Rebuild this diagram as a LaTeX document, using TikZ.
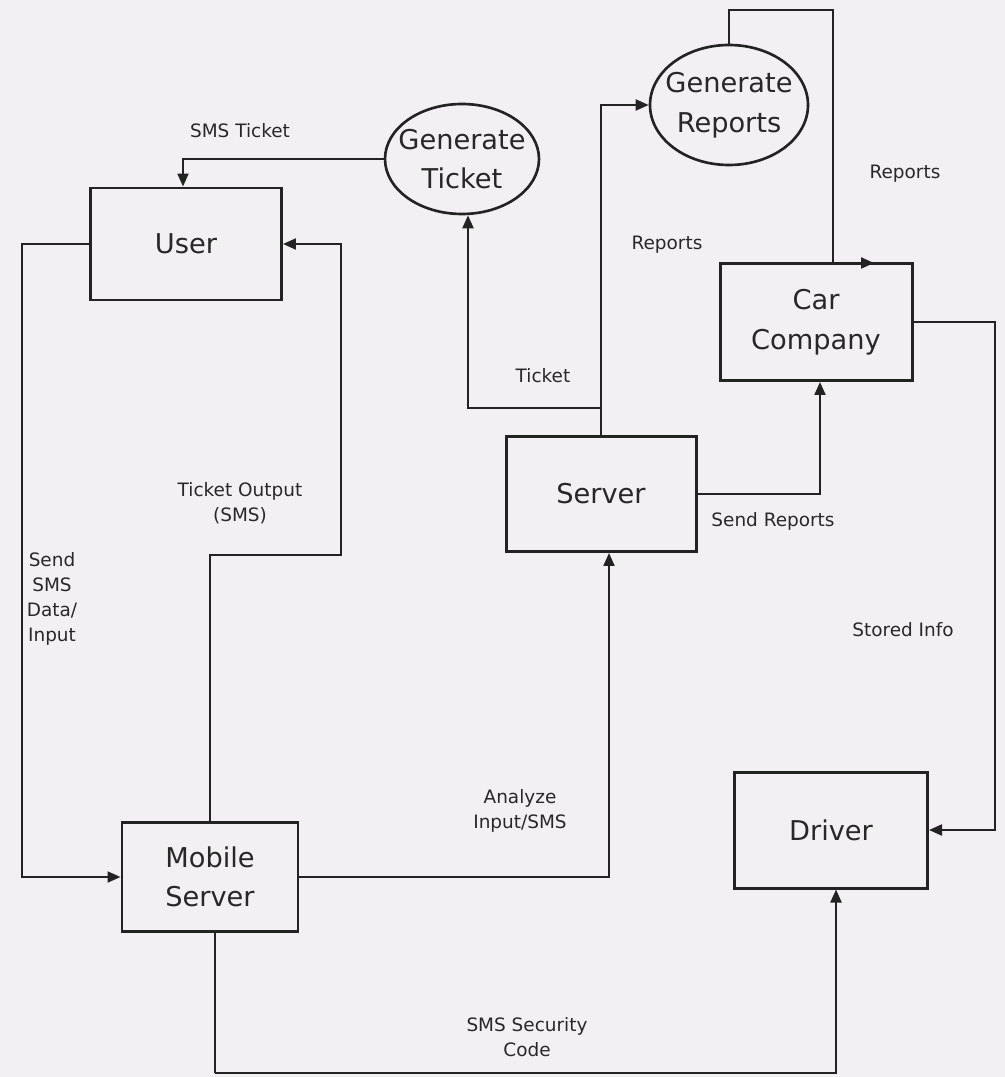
\documentclass[tikz,border=0pt]{standalone}
\usepackage{fontspec}
\setmainfont{DejaVu Sans}
\usetikzlibrary{arrows.meta,shapes.geometric}
\definecolor{paper}{RGB}{243,240,243}
\definecolor{ink}{RGB}{35,35,35}
\definecolor{txt}{RGB}{40,40,40}
\tikzset{
  entity/.style={draw=ink, line width=1.7pt, rectangle, inner sep=0pt, align=center,
    text=txt, font=\fontsize{15.5}{22.5}\selectfont},
  process/.style={draw=ink, line width=1.5pt, ellipse, inner xsep=-2mm, inner ysep=0pt, align=center,
    text=txt, font=\fontsize{15.5}{22.5}\selectfont},
  flow/.style={draw=ink, line width=1.2pt, -{Triangle[length=2.6mm,width=2.2mm]}},
  lbl/.style={text=txt, align=center, inner sep=0pt, font=\fontsize{10.5}{14.3}\selectfont}
}
\begin{document}
\begin{tikzpicture}[x=0.2mm,y=-0.2mm]
\fill[paper] (0,0) rectangle (1005,1077);
\useasboundingbox (0,0) rectangle (1005,1077);

% nodes
\node[entity, minimum width=191*0.2mm, minimum height=112*0.2mm] (user) at (186,244) {User};
\node[process, minimum width=154*0.2mm, minimum height=110*0.2mm] (gt) at (462,159) {Generate\\Ticket};
\node[process, minimum width=158*0.2mm, minimum height=120*0.2mm] (gr) at (729,105) {Generate\\Reports};
\node[entity, minimum width=192*0.2mm, minimum height=117*0.2mm] (car) at (816,322) {Car\\Company};
\node[entity, minimum width=190*0.2mm, minimum height=115*0.2mm] (server) at (601,494) {Server};
\node[entity, minimum width=176*0.2mm, minimum height=109*0.2mm] (mobile) at (210,877) {Mobile\\Server};
\node[entity, minimum width=193*0.2mm, minimum height=116*0.2mm] (driver) at (831,830) {Driver};

% bend points
\coordinate (b2) at (341,555);
\coordinate (b3) at (22,500);
\coordinate (b4) at (468,408);
\coordinate (b6) at (833,10);
\coordinate (b6e) at (874,263);
\coordinate (b8) at (995,500);
\coordinate (b10) at (215,1073);

% connectors
\draw[flow] (gt.west) -| ([xshift=-0.6mm]user.north);
\draw[flow] (mobile.north) |- (b2) |- (user.east);
\draw[flow] (user.west) -| (b3) |- (mobile.west);
\draw[flow] (server.north) |- (b4) -- (b4 |- gt.south);
\draw[flow] (server.north) |- (gr.west);
\draw[flow] (gr.north) |- (b6) |- (b6e);
\draw[flow] (server.east) -| ([xshift=0.8mm]car.south);
\draw[flow] (car.east) -| (b8) |- (driver.east);
\draw[flow] (mobile.east) -| ([xshift=1.6mm]server.south);
\draw[flow] ([xshift=1mm]mobile.south) |- (b10) -| ([xshift=1mm]driver.south);

% labels
\node[lbl] (lsmst) at (240,131) {SMS Ticket};
\node[lbl] (ltout) at (240,503) {Ticket Output\\(SMS)};
\node[lbl] (lsend) at (52,599) {Send\\SMS\\Data/\\Input};
\node[lbl] (ltick) at (543,376) {Ticket};
\node[lbl] (lrep1) at (667,245) {Reports};
\node[lbl] (lrep2) at (905,174) {Reports};
\node[lbl] (lsrep) at (773,521) {Send Reports};
\node[lbl] (lstor) at (903,630) {Stored Info};
\node[lbl] (lanal) at (520,811) {Analyze\\Input/SMS};
\node[lbl] (lsec) at (527,1037) {SMS Security\\Code};
\end{tikzpicture}
\end{document}
